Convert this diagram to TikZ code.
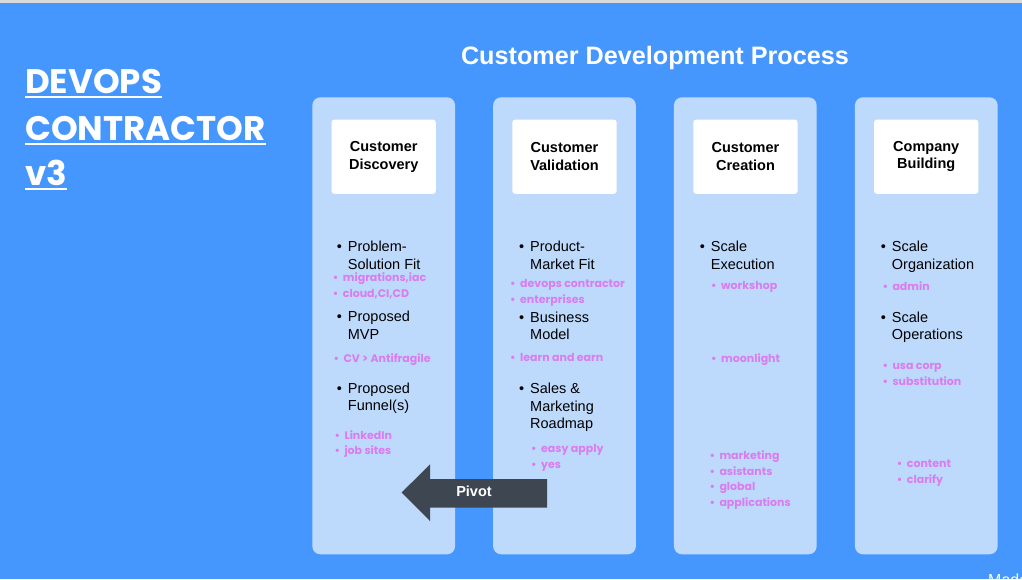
\documentclass[tikz,border=0pt]{standalone}
\usepackage{fontspec}
\setmainfont{Liberation Sans}
\newfontfamily\pop{Poppins}
\definecolor{bgblue}{RGB}{69,151,253}
\definecolor{colblue}{RGB}{189,218,253}
\definecolor{pinkc}{RGB}{218,124,239}
\definecolor{slate}{RGB}{61,70,81}
\definecolor{topgray}{RGB}{218,218,218}
\newcommand\myblt[1]{\makebox[#1][l]{\textbullet}}
\tikzset{
  colbox/.style={fill=colblue, rounded corners=8pt, minimum width=142.7pt, minimum height=457pt, inner sep=0pt},
  headbox/.style={fill=white, rounded corners=3pt, minimum width=104.3pt, minimum height=74.3pt, inner sep=0pt, align=center, font=\bfseries\fontsize{14.5}{17.5}\selectfont, text=black},
  item/.style={anchor=north west, yshift=12.25pt, inner sep=0pt, align=left, font=\fontsize{14.5}{17.5}\selectfont, text=black},
  sub/.style={anchor=north west, yshift=10.92pt, inner sep=0pt, align=left, font=\pop\bfseries\fontsize{11}{15.6}\selectfont, text=pinkc},
  bigtitle/.style={anchor=base west, inner sep=0pt, font=\pop\bfseries\fontsize{34}{40}\selectfont, text=white},
  uline/.style={white, line width=2.3pt},
}
\begin{document}
\begin{tikzpicture}[x=1pt,y=-1pt]
\useasboundingbox (0,0) rectangle (1022,579);
\fill[bgblue] (0,0) rectangle (1022,579);
\fill[topgray] (0,0) rectangle (1022,2.5);

% left title
\node[bigtitle] (t1) at (25,93.3) {DEVOPS};
\node[bigtitle] (t2) at (25,140) {CONTRACTOR};
\node[bigtitle] (t3) at (25,185) {v3};
\draw[uline] ([yshift=-3.7pt]t1.base west) -- ([yshift=-3.7pt]t1.base east);
\draw[uline] ([yshift=-3.7pt]t2.base west) -- ([yshift=-3.7pt]t2.base east);
\draw[uline] ([yshift=-3.7pt]t3.base west) -- ([yshift=-3.7pt]t3.base east);

% main title
\node[anchor=base, inner sep=0pt, text=white, font=\bfseries\fontsize{25.2}{29}\selectfont] (title) at (655,64) {Customer Development Process};

% columns
\node[colbox] (c1) at (383.7,325.8) {};
\node[colbox] (c2) at (564.5,325.8) {};
\node[colbox] (c3) at (745.3,325.8) {};
\node[colbox] (c4) at (926.3,325.8) {};

% headers
\node[headbox] (h1) at (383.7,156.7) {Customer\\Discovery};
\node[headbox] (h2) at (564.5,156.7) {Customer\\Validation};
\node[headbox] (h3) at (745.5,156.7) {Customer\\Creation};
\node[headbox] (h4) at (926.2,156.7) {Company\\Building};

% column 1
\node[item] (i11) at (336.7,251.5) {\strut\myblt{11pt}Problem-\\\hspace*{11pt}Solution Fit};
\node[sub] (s11) at (332.7,281.7) {\strut\myblt{10pt}migrations,iac\\\myblt{10pt}cloud,CI,CD};
\node[item] (i12) at (336.7,321.5) {\strut\myblt{11pt}Proposed\\\hspace*{11pt}MVP};
\node[sub] (s12) at (333.3,362.3) {\strut\myblt{10pt}CV > Antifragile};
\node[item] (i13) at (336.7,392.8) {\strut\myblt{11pt}Proposed\\\hspace*{11pt}Funnel(s)};
\node[sub] (s13) at (334.3,439) {\strut\myblt{10pt}LinkedIn\\\myblt{10pt}job sites};

% column 2
\node[item] (i21) at (519,251.5) {\strut\myblt{11pt}Product-\\\hspace*{11pt}Market Fit};
\node[sub] (s21) at (510,287.3) {\strut\myblt{10pt}devops contractor\\\myblt{10pt}enterprises};
\node[item] (i22) at (519,322) {\strut\myblt{11pt}Business\\\hspace*{11pt}Model};
\node[sub] (s22) at (510,361.7) {\strut\myblt{10pt}learn and earn};
\node[item] (i23) at (519,393.3) {\strut\myblt{11pt}Sales \&\\\hspace*{11pt}Marketing\\\hspace*{11pt}Roadmap};
\node[sub] (s23) at (531,452.7) {\strut\myblt{10pt}easy apply\\\myblt{10pt}yes};

% column 3
\node[item] (i31) at (699.7,251.5) {\strut\myblt{11pt}Scale\\\hspace*{11pt}Execution};
\node[sub] (s31) at (711,289.5) {\strut\myblt{10pt}workshop};
\node[sub] (s32) at (711,362.3) {\strut\myblt{10pt}moonlight};
\node[sub] (s33) at (709.3,459.3) {\strut\myblt{10pt}marketing\\\myblt{10pt}asistants\\\myblt{10pt}global\\\myblt{10pt}applications};

% column 4
\node[item] (i41) at (880.7,251.5) {\strut\myblt{11pt}Scale\\\hspace*{11pt}Organization};
\node[sub] (s41) at (882.3,290) {\strut\myblt{10pt}admin};
\node[item] (i42) at (880.7,322) {\strut\myblt{11pt}Scale\\\hspace*{11pt}Operations};
\node[sub] (s42) at (882.3,369.3) {\strut\myblt{10pt}usa corp\\\myblt{10pt}substitution};
\node[sub] (s43) at (896.7,467.3) {\strut\myblt{10pt}content\\\myblt{10pt}clarify};

% pivot arrow
\fill[slate] (547,479) -- (430,479) -- (430,464.3) -- (401.7,492.5) -- (430,521) -- (430,507.7) -- (547,507.7) -- cycle;
\node[anchor=base, inner sep=0pt, text=white, font=\bfseries\fontsize{14.5}{17}\selectfont] (pivot) at (474,496.5) {Pivot};

% cut-off watermark (cut by the picture's edge, as in the reference)
\begin{scope}
\clip (0,0) rectangle (1022,579);
\node[anchor=base west, inner sep=0pt, text=white, font=\fontsize{16}{19}\selectfont] (mad) at (988,585) {Made};
\end{scope}
\end{tikzpicture}
\end{document}
